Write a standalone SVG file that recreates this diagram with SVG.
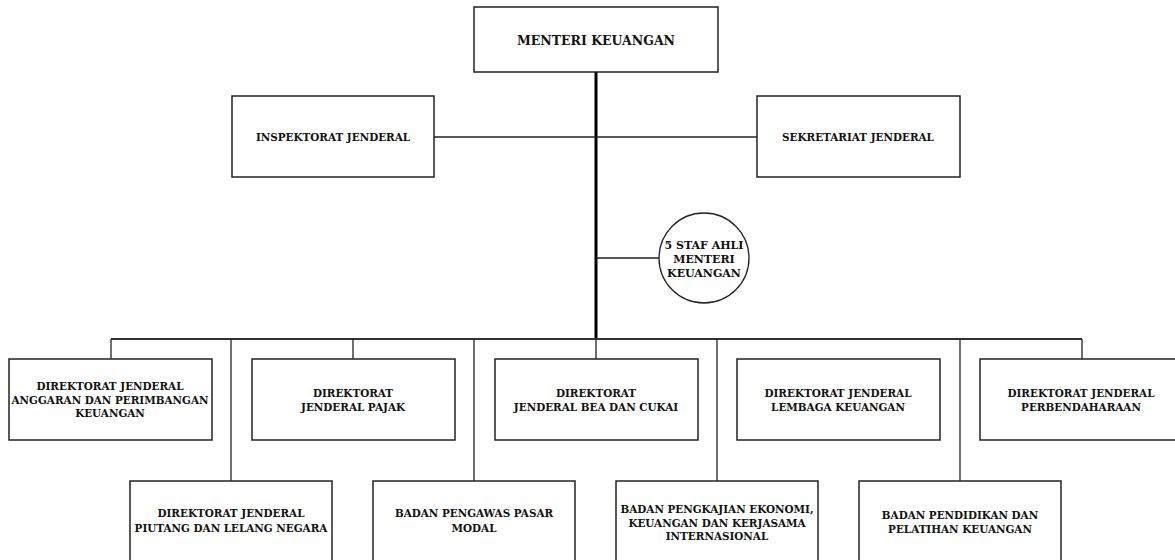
<svg xmlns="http://www.w3.org/2000/svg" width="1175" height="560" viewBox="0 0 1175 560">
<style>
.box{fill:#fff;stroke:#222;stroke-width:1.5}
.t{font-family:"DejaVu Serif","Liberation Serif",serif;font-weight:bold;font-size:10.4px;fill:#111;text-anchor:middle;dominant-baseline:central}
.big{font-size:12.5px}
.c{font-size:11px}
.ln{stroke:#222;stroke-width:1.3;fill:none}
.bus{stroke:#333;stroke-width:2;fill:none}
.trunk{stroke:#000;stroke-width:3;fill:none}
</style>
<rect width="1175" height="560" fill="#fff"/>
<g id="connectors">
<line class="trunk" x1="596" y1="72" x2="596" y2="340"/>
<line class="ln" x1="434" y1="137" x2="757" y2="137"/>
<line class="ln" x1="596" y1="258" x2="659" y2="258"/>
<line class="bus" x1="111" y1="339" x2="1082" y2="339"/>
<line class="ln" x1="111" y1="339" x2="111" y2="359"/>
<line class="ln" x1="231" y1="339" x2="231" y2="481"/>
<line class="ln" x1="353" y1="339" x2="353" y2="359"/>
<line class="ln" x1="474" y1="339" x2="474" y2="481"/>
<line class="ln" x1="596" y1="339" x2="596" y2="359"/>
<line class="ln" x1="717" y1="339" x2="717" y2="481"/>
<line class="ln" x1="960" y1="339" x2="960" y2="481"/>
<line class="ln" x1="1082" y1="339" x2="1082" y2="359"/>
</g>
<g id="menteri">
<rect class="box" x="474" y="7" width="244" height="65"/>
<text class="t big" x="596" y="40">MENTERI KEUANGAN</text>
</g>
<g id="inspektorat">
<rect class="box" x="232" y="96" width="202" height="81"/>
<text class="t" x="333" y="137">INSPEKTORAT JENDERAL</text>
</g>
<g id="sekretariat">
<rect class="box" x="757" y="96" width="203" height="81"/>
<text class="t" x="858" y="137">SEKRETARIAT JENDERAL</text>
</g>
<g id="staf-ahli">
<circle cx="704" cy="258" r="45" fill="#fff" stroke="#222" stroke-width="1.3"/>
<text class="t c" x="704" y="245">5 STAF AHLI</text>
<text class="t c" x="704" y="259">MENTERI</text>
<text class="t c" x="704" y="273">KEUANGAN</text>
</g>
<g id="dj-anggaran">
<rect class="box" x="9" y="359" width="203" height="81"/>
<text class="t" x="110" y="386">DIREKTORAT JENDERAL</text>
<text class="t" x="110" y="400">ANGGARAN DAN PERIMBANGAN</text>
<text class="t" x="110" y="413">KEUANGAN</text>
</g>
<g id="dj-pajak">
<rect class="box" x="252" y="359" width="203" height="81"/>
<text class="t" x="353" y="393">DIREKTORAT</text>
<text class="t" x="353" y="407">JENDERAL PAJAK</text>
</g>
<g id="dj-bea-cukai">
<rect class="box" x="495" y="359" width="203" height="81"/>
<text class="t" x="596" y="393">DIREKTORAT</text>
<text class="t" x="596" y="407">JENDERAL BEA DAN CUKAI</text>
</g>
<g id="dj-lembaga-keuangan">
<rect class="box" x="737" y="359" width="203" height="81"/>
<text class="t" x="838" y="393">DIREKTORAT JENDERAL</text>
<text class="t" x="838" y="407">LEMBAGA KEUANGAN</text>
</g>
<g id="dj-perbendaharaan">
<rect class="box" x="980" y="359" width="203" height="81"/>
<text class="t" x="1081" y="393">DIREKTORAT JENDERAL</text>
<text class="t" x="1081" y="407">PERBENDAHARAAN</text>
</g>
<g id="dj-piutang">
<rect class="box" x="130" y="481" width="202" height="90"/>
<text class="t" x="231" y="513">DIREKTORAT JENDERAL</text>
<text class="t" x="231" y="528">PIUTANG DAN LELANG NEGARA</text>
</g>
<g id="bapepam">
<rect class="box" x="373" y="481" width="202" height="90"/>
<text class="t" x="474" y="513">BADAN PENGAWAS PASAR</text>
<text class="t" x="474" y="528">MODAL</text>
</g>
<g id="bapekki">
<rect class="box" x="616" y="481" width="202" height="90"/>
<text class="t" x="717" y="509">BADAN PENGKAJIAN EKONOMI,</text>
<text class="t" x="717" y="523">KEUANGAN DAN KERJASAMA</text>
<text class="t" x="717" y="536">INTERNASIONAL</text>
</g>
<g id="bppk">
<rect class="box" x="859" y="481" width="202" height="90"/>
<text class="t" x="960" y="515">BADAN PENDIDIKAN DAN</text>
<text class="t" x="960" y="529">PELATIHAN KEUANGAN</text>
</g>
</svg>
